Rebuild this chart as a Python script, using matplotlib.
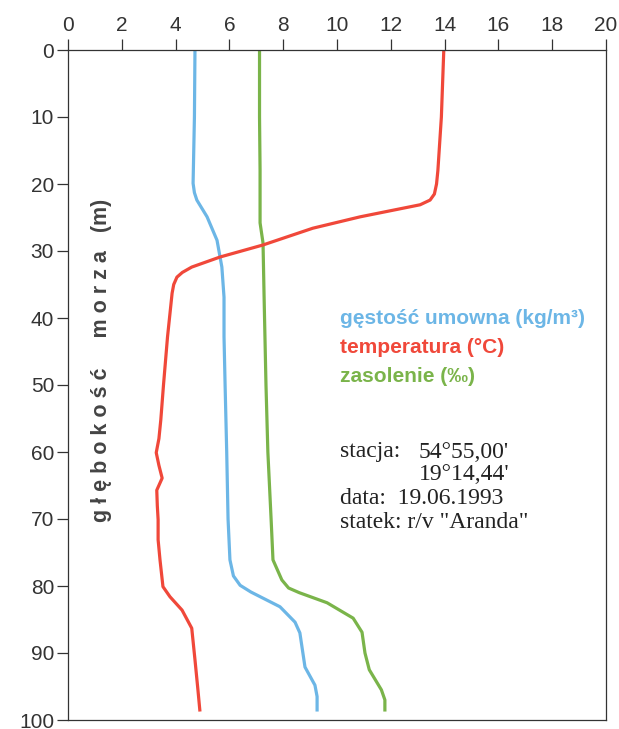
import matplotlib
matplotlib.use("Agg")
import matplotlib.pyplot as plt

# temperatura (°C)
depth_t = [0, 10, 18, 20, 21.5, 22.4, 23.1, 24.9, 26.6, 29.1, 30.9, 32.4, 33.2,
           33.9, 35, 36.3, 42.8, 50, 55.2, 58, 60.1, 62, 63.9, 65.7, 68, 70.1,
           73.1, 76.1, 80.1, 81.6, 83.6, 86.3, 91.0, 95.5, 98.5]
temp = [13.97, 13.88, 13.75, 13.7, 13.62, 13.46, 13.09, 10.86, 9.1, 7.25, 5.65,
        4.6, 4.25, 4.05, 3.93, 3.87, 3.7, 3.55, 3.45, 3.38, 3.28, 3.38, 3.5, 3.3,
        3.32, 3.35, 3.35, 3.42, 3.53, 3.79, 4.24, 4.6, 4.72, 4.83, 4.9]

# gęstość umowna (kg/m3)
depth_d = [0, 10, 19.9, 21.3, 22.4, 24.9, 28.4, 32.4, 36.9, 42.8, 50, 60, 70,
           76.1, 78.5, 79.9, 80.9, 83.1, 85.4, 87.0, 92.1, 94.8, 96.5, 98.5]
dens = [4.72, 4.7, 4.65, 4.7, 4.79, 5.17, 5.54, 5.72, 5.8, 5.8, 5.84, 5.9, 5.95,
        6.02, 6.15, 6.4, 6.8, 7.88, 8.44, 8.62, 8.81, 9.18, 9.26, 9.26]

# zasolenie (‰)
depth_s = [0, 10, 17.9, 25.8, 28.8, 36.9, 50, 60, 70, 76.1, 79.1, 80.3, 81.0,
           82.5, 84.8, 86.9, 90.0, 92.5, 95.5, 97, 98.5]
sal = [7.12, 7.12, 7.14, 7.14, 7.25, 7.29, 7.36, 7.43, 7.55, 7.62, 7.95, 8.2,
       8.6, 9.63, 10.6, 10.93, 11.04, 11.2, 11.65, 11.78, 11.78]

x_ticks = list(range(0, 21, 2))
y_ticks = list(range(0, 101, 10))

BLUE = "#6cb6e6"
RED = "#f0483a"
GREEN = "#7ab44a"

plt.rcParams["font.family"] = ["Liberation Sans", "DejaVu Sans"]

fig = plt.figure(figsize=(6.19, 7.29), dpi=100)
ax = fig.add_axes([68 / 619, 1 - 720 / 729, 538 / 619, 670 / 729])

ax.plot(dens, depth_d, color=BLUE, lw=2.3, solid_joinstyle="round")
ax.plot(sal, depth_s, color=GREEN, lw=2.3, solid_joinstyle="round")
ax.plot(temp, depth_t, color=RED, lw=2.3, solid_joinstyle="round")

ax.set_xlim(0, 20)
ax.set_ylim(100, 0)
ax.set_xticks(x_ticks)
ax.set_yticks(y_ticks)
ax.xaxis.tick_top()
ax.tick_params(axis="both", direction="out", length=8, width=0.9,
               labelsize=15, labelcolor="#333333", colors="#333333")
ax.tick_params(axis="x", pad=3)
ax.tick_params(axis="y", pad=2)
for s in ax.spines.values():
    s.set_linewidth(0.9)
    s.set_color("#333333")

# opis osi y wewnątrz wykresu
ax.text(0.062, 0.537, "g ł ę b o k o ś ć     m o r z a   (m)",
        transform=ax.transAxes, rotation=90, ha="center", va="center",
        fontsize=15.5, fontweight="bold", color="#444444")

# legenda
leg_font = dict(fontsize=15, fontweight="bold", ha="left", va="center")
ax.text(10.1, 40.0, "gęstość umowna (kg/m³)", color=BLUE, **leg_font)
ax.text(10.1, 44.4, "temperatura (°C)", color=RED, **leg_font)
ax.text(10.1, 48.8, "zasolenie (‰)", color=GREEN, **leg_font)

info = dict(fontsize=17, family=["Liberation Serif", "DejaVu Serif"],
            ha="left", va="center", color="#222222")
ax.text(10.1, 60.0, "stacja:", **info)
ax.text(13.05, 60.0, "54°55,00'", **info)
ax.text(13.05, 63.4, "19°14,44'", **info)
ax.text(10.1, 67.0, "data:  19.06.1993", **info)
ax.text(10.1, 70.5, 'statek: r/v "Aranda"', **info)

fig.savefig("out.png", dpi=100)
